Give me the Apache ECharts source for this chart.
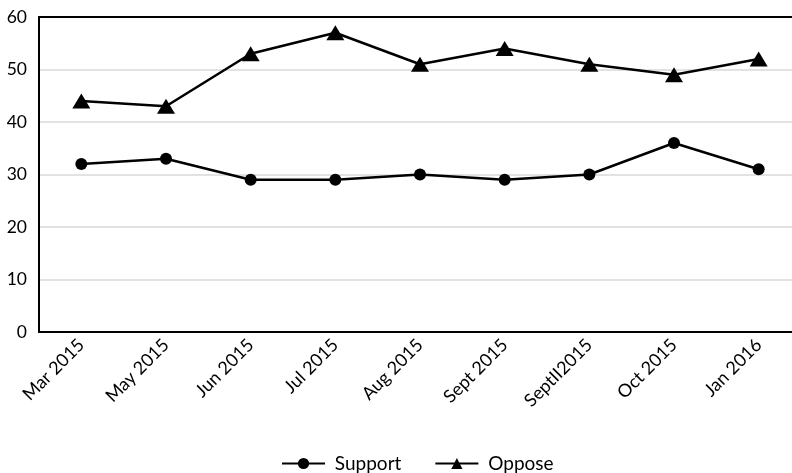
<!DOCTYPE html>
<html>
<head>
<meta charset="utf-8">
<script src="https://cdn.jsdelivr.net/npm/echarts@6/dist/echarts.min.js"></script>
<style>
  html, body { margin: 0; padding: 0; background: #fff; overflow: hidden; }
  /* the plot runs a little past the right edge of the window */
  #chart { width: 801px; height: 473px; }
</style>
</head>
<body>
<div id="chart"></div>
<script>
// Survey months
const categories = ['Mar 2015', 'May 2015', 'Jun 2015', 'Jul 2015', 'Aug 2015', 'Sept 2015', 'SeptII2015', 'Oct 2015', 'Jan 2016'];
// Percent support / oppose
const supportValues = [32, 33, 29, 29, 30, 29, 30, 36, 31];
const opposeValues = [44, 43, 53, 57, 51, 54, 51, 49, 52];
// Y axis range
const yMin = 0, yMax = 60, yStep = 10;

const font = 'Lato, "Open Sans", sans-serif';
const chart = echarts.init(document.getElementById('chart'), null, { renderer: 'canvas' });

chart.setOption({
  animation: false,
  grid: { left: 39, top: 17, right: 0, bottom: 141, containLabel: false },
  xAxis: [
    {
      type: 'category',
      data: categories,
      boundaryGap: true,
      axisLine: { lineStyle: { color: '#000', width: 2 } },
      axisTick: { show: false },
      axisLabel: { rotate: 45, color: '#000', fontSize: 18, fontFamily: font, margin: 10 },
      splitLine: { show: false }
    },
    {
      type: 'category',
      data: categories,
      position: 'top',
      axisLine: { lineStyle: { color: '#000', width: 2 } },
      axisTick: { show: false },
      axisLabel: { show: false },
      splitLine: { show: false }
    }
  ],
  yAxis: {
    type: 'value',
    min: yMin, max: yMax, interval: yStep,
    axisLine: { show: true, lineStyle: { color: '#000', width: 2 } },
    axisTick: { show: false },
    axisLabel: { color: '#000', fontSize: 17.5, fontFamily: font, margin: 12 },
    splitLine: { lineStyle: { color: '#d9d9d9', width: 1.5 } }
  },
  legend: {
    top: 449,
    left: 276,
    itemWidth: 43,
    itemHeight: 14,
    itemGap: 33,
    formatter: name => ' ' + name,
    textStyle: { color: '#000', fontSize: 19, fontFamily: font },
    data: ['Support', 'Oppose']
  },
  series: [
    {
      name: 'Support',
      type: 'line',
      data: supportValues,
      symbol: 'circle',
      symbolSize: 12,
      lineStyle: { color: '#000', width: 2.5 },
      itemStyle: { color: '#000' }
    },
    {
      name: 'Oppose',
      type: 'line',
      data: opposeValues,
      symbol: 'triangle',
      symbolSize: [18, 15],
      lineStyle: { color: '#000', width: 2.5 },
      itemStyle: { color: '#000' }
    }
  ]
});
</script>
</body>
</html>
